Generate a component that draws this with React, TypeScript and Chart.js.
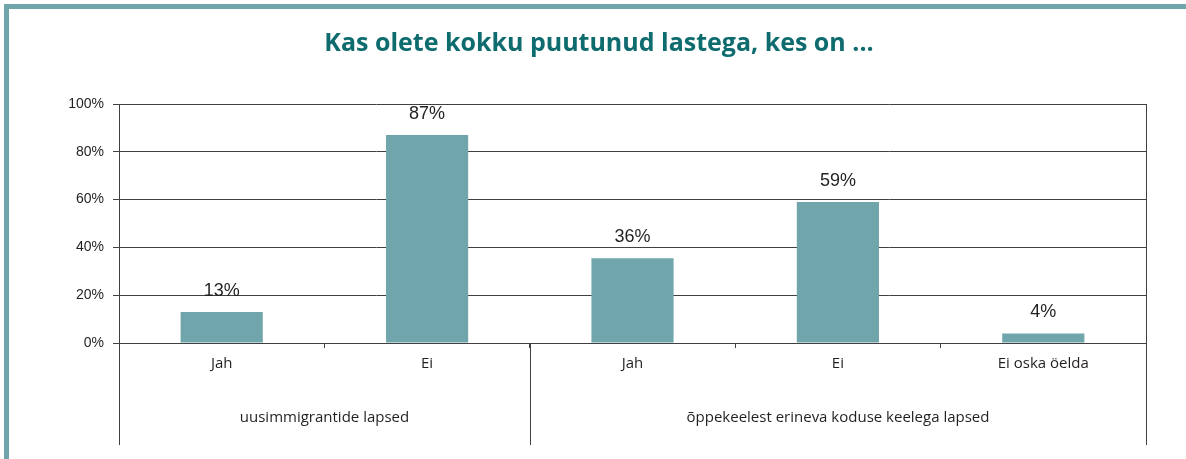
import React, { useEffect, useRef } from "react";
import { Chart, registerables } from "chart.js";

Chart.register(...registerables);

const titleText = "Kas olete kokku puutunud lastega, kes on ...";
const categories = ["Jah", "Ei", "Jah", "Ei", "Ei oska öelda"];
const values = [13, 87, 35.5, 59, 4];
const valueLabels = ["13%", "87%", "36%", "59%", "4%"];
const groupNames = ["uusimmigrantide lapsed", "õppekeelest erineva koduse keelega lapsed"];
const groupSizes = [2, 3];
const yTicks = [0, 20, 40, 60, 80, 100];

const BAR_COLOR = "#6FA5AB";
const LINE_COLOR = "#404040";
const TEXT_COLOR = "#231f20";
const TITLE_COLOR = "#0E6B6E";
const LABEL_FONT = "'Open Sans', 'Noto Sans', sans-serif";

const decorPlugin = {
  id: "decor",
  afterDraw(chart: any) {
    const { ctx, chartArea, scales } = chart;
    const x = scales.x;
    const lineBottom = 445;
    ctx.save();
    // title
    ctx.fillStyle = TITLE_COLOR;
    ctx.font = "bold 25px 'Open Sans', sans-serif";
    ctx.textAlign = "center";
    ctx.textBaseline = "middle";
    ctx.fillText(titleText, 599, 44);

    // frame lines
    ctx.strokeStyle = LINE_COLOR;
    ctx.lineWidth = 1;
    const step = x.getPixelForValue(1) - x.getPixelForValue(0);
    const bounds: number[] = [chartArea.left];
    let idx = 0;
    groupSizes.forEach((n) => {
      idx += n;
      bounds.push(Math.round(x.getPixelForValue(idx - 1) + step / 2));
    });
    bounds.forEach((b, i) => {
      const bx = i === 0 ? chartArea.left + 0.5 : Math.round(b) + 0.5;
      ctx.beginPath();
      ctx.moveTo(bx, i === bounds.length - 1 ? chartArea.top : chartArea.bottom);
      ctx.lineTo(bx, lineBottom);
      ctx.stroke();
    });
    // group labels
    ctx.fillStyle = TEXT_COLOR;
    ctx.font = "15px " + LABEL_FONT;
    for (let g = 0; g < groupNames.length; g++) {
      const cx = (bounds[g] + bounds[g + 1]) / 2;
      ctx.fillText(groupNames[g], cx, 418);
    }
    ctx.restore();
  },
  afterDatasetsDraw(chart: any) {
    const { ctx } = chart;
    const meta = chart.getDatasetMeta(0);
    ctx.save();
    ctx.fillStyle = TEXT_COLOR;
    ctx.font = "18px 'Liberation Sans', Arial, sans-serif";
    ctx.textAlign = "center";
    ctx.textBaseline = "middle";
    meta.data.forEach((bar: any, i: number) => {
      ctx.fillText(valueLabels[i], bar.x, bar.y - 21);
    });
    ctx.restore();
  },
};

export default function App() {
  const canvasRef = useRef<HTMLCanvasElement | null>(null);

  useEffect(() => {
    const canvas = canvasRef.current;
    if (!canvas) return;
    const chart = new Chart(canvas, {
      type: "bar",
      data: {
        labels: categories,
        datasets: [
          {
            data: values,
            backgroundColor: BAR_COLOR,
            borderWidth: 0,
            barPercentage: 0.8,
            categoryPercentage: 0.5,
          },
        ],
      },
      options: {
        animation: false,
        responsive: false,
        maintainAspectRatio: false,
        devicePixelRatio: 1,
        layout: { padding: { top: 104, left: 0, right: 40, bottom: 0 } },
        plugins: {
          legend: { display: false },
          title: { display: false },
          tooltip: { enabled: false },
        },
        scales: {
          x: {
            grid: {
              display: true,
              drawOnChartArea: false,
              drawTicks: true,
              tickLength: 5,
              color: LINE_COLOR,
              offset: true,
            },
            border: { display: true, color: LINE_COLOR, width: 1 },
            ticks: {
              color: TEXT_COLOR,
              font: { family: LABEL_FONT, size: 15 },
              padding: 7,
              maxRotation: 0,
              autoSkip: false,
            },
            afterFit(scale: any) {
              scale.height = 116;
            },
          },
          y: {
            min: 0,
            max: 100,
            afterBuildTicks(scale: any) {
              scale.ticks = yTicks.map((v) => ({ value: v }));
            },
            grid: {
              color: LINE_COLOR,
              lineWidth: 1,
              tickLength: 6,
              drawTicks: true,
            },
            border: { display: true, color: LINE_COLOR, width: 1 },
            ticks: {
              color: TEXT_COLOR,
              font: { family: "'Liberation Sans', Arial, sans-serif", size: 14 },
              padding: 9,
              callback: (v: any) => `${v}%`,
            },
            afterFit(scale: any) {
              scale.width = 119;
            },
          },
        },
      },
      plugins: [decorPlugin],
    });
    return () => chart.destroy();
  }, []);

  return (
    <div
      style={{
        position: "absolute",
        left: 0,
        top: 0,
        width: 1186,
        height: 459,
        background: "#fff",
        overflow: "hidden",
      }}
    >
      <div
        style={{
          position: "absolute",
          left: 4,
          top: 4,
          right: 0,
          bottom: 0,
          borderLeft: "5px solid #6FA5AB",
          borderTop: "5px solid #6FA5AB",
          boxSizing: "border-box",
        }}
      />
      <canvas
        ref={canvasRef}
        width={1186}
        height={459}
        style={{ position: "absolute", left: 0, top: 0, width: 1186, height: 459 }}
      />
    </div>
  );
}
